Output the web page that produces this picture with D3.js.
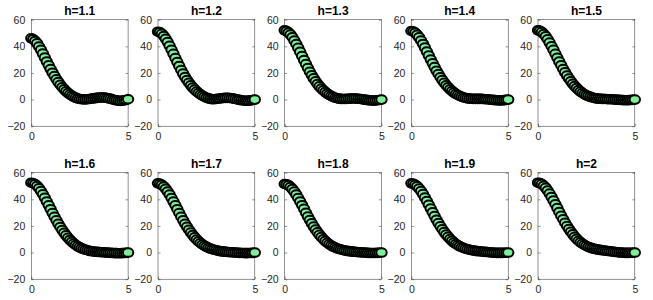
<!DOCTYPE html>
<html><head><meta charset="utf-8">
<script src="https://cdn.jsdelivr.net/npm/d3@7"></script>
<style>body{margin:0;background:#fff}svg{display:block}</style>
</head><body>
<script>
const panelTitles = ["h=1.1","h=1.2","h=1.3","h=1.4","h=1.5","h=1.6","h=1.7","h=1.8","h=1.9","h=2"];
const xValues = [0,0.1,0.2,0.3,0.4,0.5,0.6,0.7,0.8,0.9,1,1.1,1.2,1.3,1.4,1.5,1.6,1.7,1.8,1.9,2,2.1,2.2,2.3,2.4,2.5,2.6,2.7,2.8,2.9,3,3.1,3.2,3.3,3.4,3.5,3.6,3.7,3.8,3.9,4,4.1,4.2,4.3,4.4,4.5,4.6,4.7,4.8,4.9,5];
const yH11 = [46.0,45.3,44.0,42.2,39.9,37.3,34.5,31.6,28.6,25.7,22.9,20.2,17.7,15.3,13.1,11.1,9.3,7.7,6.2,4.9,3.8,2.9,2.0,1.3,0.8,0.4,0.2,0.1,0.1,0.2,0.4,0.6,0.9,1.1,1.3,1.5,1.6,1.6,1.5,1.2,0.9,0.5,0.1,-0.3,-0.6,-0.9,-1.0,-0.9,-0.6,-0.3,0.2];
const yH12 = [51.0,50.5,49.4,47.8,45.7,43.2,40.4,37.4,34.3,31.2,28.1,25.1,22.2,19.5,17.0,14.7,12.6,10.7,9.0,7.5,6.1,4.9,3.8,2.9,2.1,1.4,0.9,0.5,0.3,0.3,0.4,0.6,0.8,1.0,1.2,1.3,1.3,1.2,1.0,0.7,0.4,0.1,-0.2,-0.5,-0.7,-0.9,-0.9,-0.8,-0.6,-0.3,0.0];
const yH13 = [52.0,51.5,50.4,48.8,46.8,44.4,41.7,38.8,35.8,32.7,29.6,26.6,23.7,20.9,18.3,15.9,13.7,11.7,9.9,8.3,6.9,5.6,4.5,3.5,2.7,2.0,1.4,1.0,0.7,0.5,0.4,0.4,0.5,0.6,0.7,0.8,0.8,0.7,0.6,0.4,0.2,0.0,-0.2,-0.4,-0.6,-0.7,-0.8,-0.7,-0.5,-0.3,0.0];
const yH14 = [51.5,51.1,50.1,48.6,46.7,44.4,41.8,39.0,36.1,33.1,30.1,27.2,24.4,21.7,19.2,16.8,14.6,12.6,10.8,9.2,7.7,6.4,5.2,4.2,3.4,2.7,2.1,1.6,1.2,0.9,0.7,0.6,0.5,0.5,0.5,0.5,0.5,0.4,0.3,0.2,0.1,-0.1,-0.2,-0.4,-0.5,-0.6,-0.6,-0.6,-0.4,-0.2,0.0];
const yH15 = [52.0,51.6,50.7,49.3,47.5,45.3,42.8,40.1,37.3,34.4,31.4,28.5,25.7,23.0,20.4,18.0,15.8,13.7,11.8,10.1,8.6,7.2,6.0,4.9,4.0,3.2,2.6,2.0,1.6,1.2,0.9,0.7,0.6,0.5,0.4,0.4,0.3,0.3,0.2,0.1,0.0,-0.1,-0.2,-0.3,-0.4,-0.5,-0.5,-0.4,-0.3,-0.2,0.0];
const yH16 = [52.5,52.1,51.3,50.0,48.3,46.2,43.8,41.2,38.4,35.5,32.6,29.7,26.9,24.2,21.6,19.2,16.9,14.8,12.9,11.1,9.5,8.1,6.8,5.7,4.7,3.9,3.2,2.6,2.1,1.7,1.3,1.0,0.8,0.6,0.5,0.4,0.3,0.2,0.1,0.0,-0.1,-0.2,-0.3,-0.4,-0.4,-0.5,-0.5,-0.4,-0.3,-0.2,0.0];
const yH17 = [52.0,51.7,50.9,49.6,47.9,45.9,43.6,41.0,38.3,35.5,32.6,29.7,26.9,24.2,21.7,19.3,17.1,15.0,13.1,11.4,9.8,8.4,7.2,6.1,5.1,4.3,3.6,3.0,2.5,2.1,1.7,1.4,1.1,0.9,0.7,0.6,0.4,0.3,0.2,0.1,0.0,-0.1,-0.2,-0.3,-0.3,-0.4,-0.4,-0.3,-0.3,-0.2,0.0];
const yH18 = [51.5,51.2,50.5,49.3,47.7,45.8,43.5,41.0,38.4,35.6,32.8,29.9,27.1,24.4,21.9,19.5,17.3,15.2,13.3,11.6,10.0,8.6,7.4,6.3,5.3,4.5,3.8,3.2,2.7,2.3,1.9,1.6,1.3,1.1,0.9,0.7,0.6,0.4,0.3,0.2,0.1,0.0,-0.1,-0.2,-0.3,-0.3,-0.3,-0.3,-0.2,-0.1,0.0];
const yH19 = [52.0,51.7,50.9,49.7,48.1,46.2,43.9,41.4,38.7,35.9,33.1,30.2,27.4,24.7,22.1,19.7,17.5,15.4,13.5,11.8,10.2,8.8,7.5,6.4,5.5,4.7,4.0,3.4,2.9,2.5,2.1,1.8,1.6,1.3,1.1,1.0,0.8,0.6,0.5,0.4,0.2,0.1,0.0,-0.1,-0.2,-0.2,-0.2,-0.2,-0.1,-0.1,0.0];
const yH20 = [52.5,52.2,51.4,50.2,48.6,46.6,44.3,41.8,39.1,36.3,33.4,30.5,27.7,25.0,22.4,20.0,17.7,15.6,13.7,11.9,10.3,8.9,7.7,6.6,5.7,4.9,4.2,3.7,3.2,2.8,2.5,2.2,2.0,1.8,1.6,1.4,1.2,1.0,0.8,0.6,0.4,0.3,0.1,0.0,-0.1,-0.2,-0.2,-0.2,-0.1,-0.1,0.0];
const seriesList = [yH11,yH12,yH13,yH14,yH15,yH16,yH17,yH18,yH19,yH20];
const yTicks = [-20,0,20,40,60];
const xTicks = [0,5];

const W = 653, H = 300;
const svg = d3.select("body").append("svg").attr("width", W).attr("height", H);

const lefts = [31.3, 158, 284.7, 411.4, 538];
const tops = [19.7, 172.7];
const pw = 96.8, ph = 106.5;
const axisColor = "#262626";
const fontFam = "'Liberation Sans', Arial, Helvetica, sans-serif";

seriesList.forEach((ys, i) => {
  const row = Math.floor(i / 5), col = i % 5;
  const g = svg.append("g").attr("transform", `translate(${lefts[col]},${tops[row]})`);
  const x = d3.scaleLinear().domain([0, 5]).range([0, pw]);
  const y = d3.scaleLinear().domain([-20, 60]).range([ph, 0]);

  g.append("rect").attr("x", 0).attr("y", 0).attr("width", pw).attr("height", ph)
    .attr("fill", "none").attr("stroke", axisColor).attr("stroke-width", 0.5);

  const ya = g.append("g").call(d3.axisLeft(y).tickValues(yTicks).tickSize(-2.5).tickPadding(6).tickFormat(d3.format("d")));
  const yr = g.append("g").attr("transform", `translate(${pw},0)`).call(d3.axisRight(y).tickValues(yTicks).tickSize(-2.5).tickFormat(""));
  const xa = g.append("g").attr("transform", `translate(0,${ph})`).call(d3.axisBottom(x).tickValues(xTicks).tickSize(-2.5).tickPadding(6).tickFormat(d3.format("d")));
  [ya, yr, xa].forEach(a => {
    a.select(".domain").remove();
    a.selectAll("line").attr("stroke", axisColor).attr("stroke-width", 0.5);
    a.selectAll("text").attr("fill", axisColor)
      .style("font-family", fontFam).style("font-size", "10.5px");
  });

  g.append("text").attr("x", pw / 2).attr("y", -4.7).attr("text-anchor", "middle")
    .style("font-family", fontFam).style("font-size", "12px").style("font-weight", "bold")
    .attr("fill", "#000").text(panelTitles[i]);

  g.append("g").selectAll("ellipse").data(xValues.map((xv, k) => [xv, ys[k]])).join("ellipse")
    .attr("cx", d => x(d[0])).attr("cy", d => y(d[1])).attr("rx", 5.2).attr("ry", 4.3)
    .attr("fill", "#7fef9a").attr("stroke", "#000").attr("stroke-width", 2);
});
</script>
</body></html>
